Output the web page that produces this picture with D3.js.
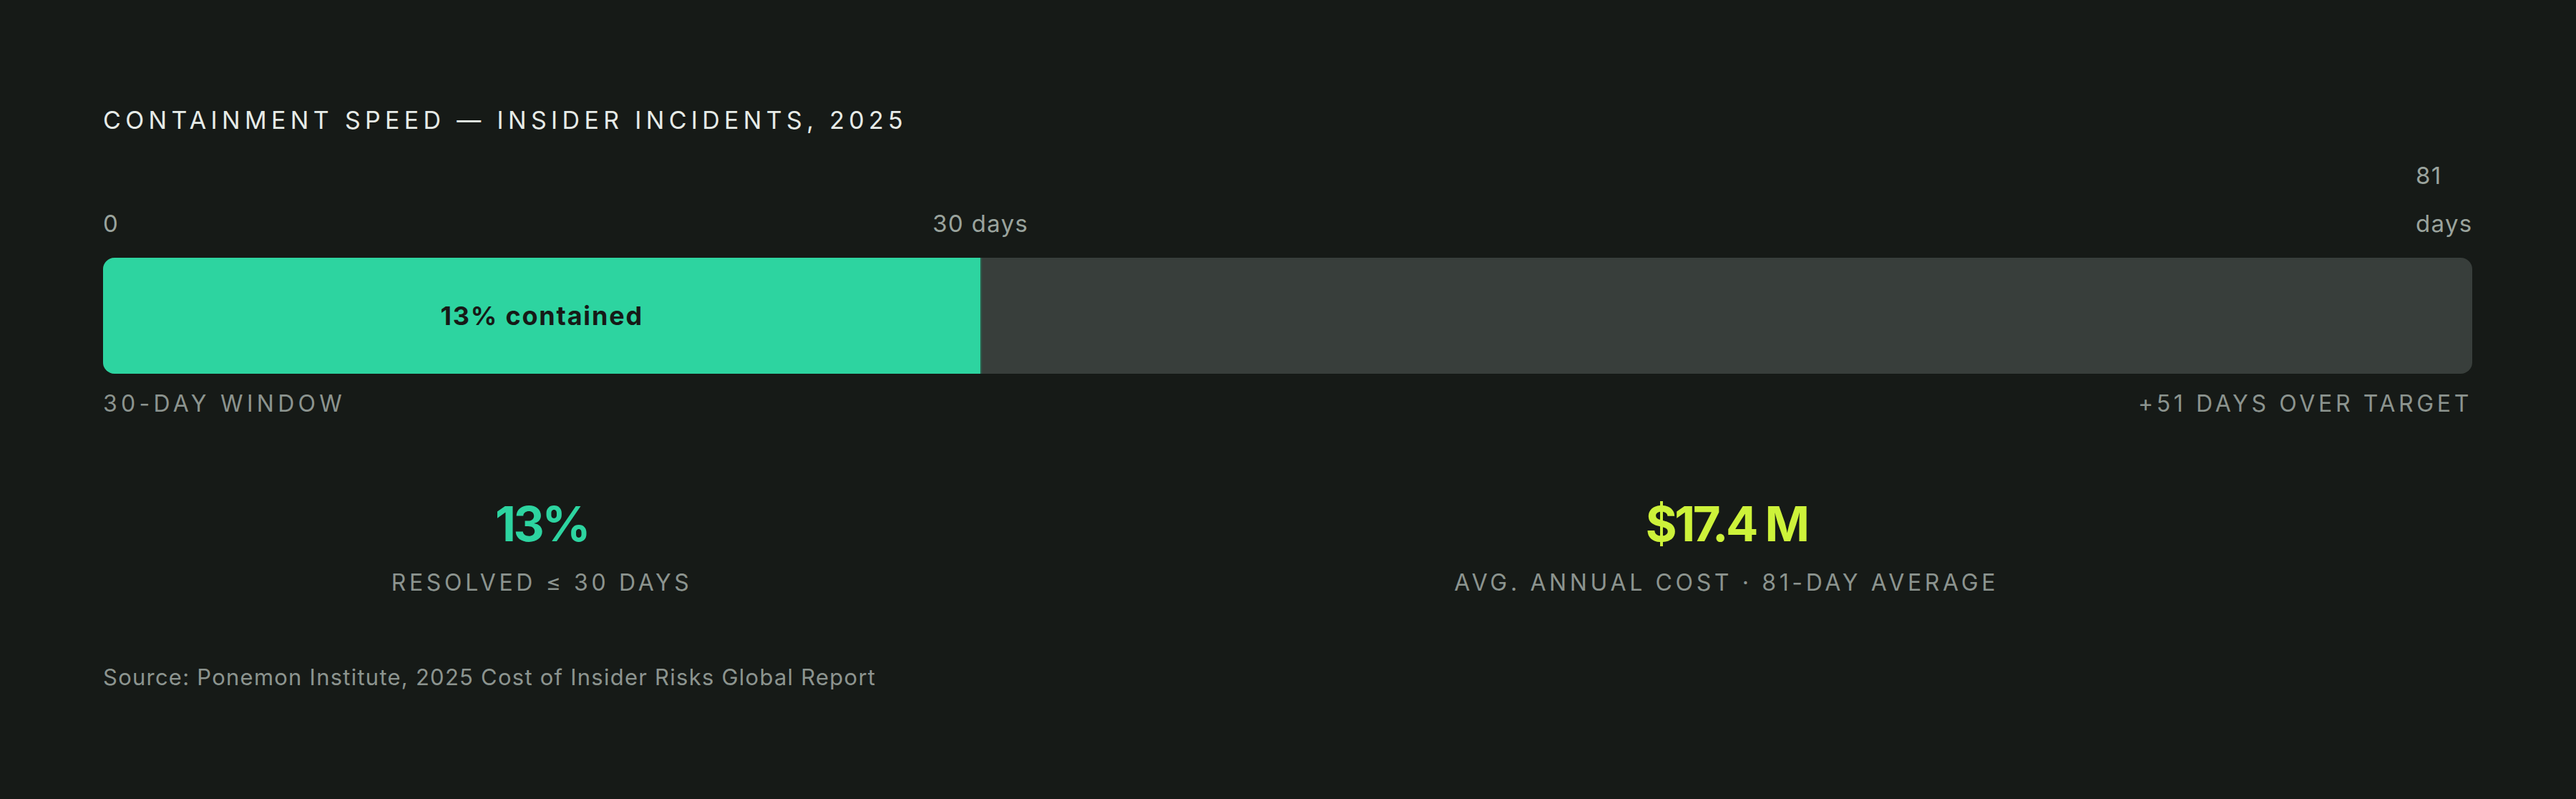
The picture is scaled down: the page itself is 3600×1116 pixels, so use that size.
<!DOCTYPE html>
<html>
<head>
<meta charset="utf-8">
<script src="https://cdn.jsdelivr.net/npm/d3@7"></script>
<style>
  html, body { margin: 0; padding: 0; background: #161a17; }
  svg { display: block; }
</style>
</head>
<body>
<div id="chart"></div>
<script>
(function () {
  'use strict';

  // data
  var dayTicks = [0, 30, 81];
  var tickLabels = ["0", "30 days", "81 days"];
  var segmentStart = [0, 30];
  var segmentEnd = [30, 81];
  var segmentNames = ["13% contained", ""];
  var windowLabels = ["30-DAY WINDOW", "+51 DAYS OVER TARGET"];
  var statValues = ["13%", "$17.4 M"];
  var statLabels = ["RESOLVED \u2264 30 DAYS", "AVG. ANNUAL COST \u00b7 81-DAY AVERAGE"];
  var title = "CONTAINMENT SPEED \u2014 INSIDER INCIDENTS, 2025";
  var source = "Source: Ponemon Institute, 2025 Cost of Insider Risks Global Report";

  var colours = ['#2dd4a0', '#383e3b'];
  var statColours = ['#2dd4a0', '#cdf23a'];
  var font = "Inter, 'DejaVu Sans', sans-serif";

  var width = 3600,
  height = 1116;

  var x = d3.scaleLinear()
  .domain([0, d3.max(segmentEnd)])
  .range([144, 3455]);

  var barTop = 360, barH = 162, r = 16;

  var svg = d3.select('#chart')
  .append('svg')
  .attr('width', width)
  .attr('height', height);

  svg.append('rect')
  .attr('width', width)
  .attr('height', height)
  .attr('fill', '#161a17');

  svg.append('text')
  .attr('x', x(0))
  .attr('y', 180)
  .attr('fill', '#e6ebe7')
  .style('font-family', font)
  .style('font-size', '34px')
  .style('letter-spacing', '0.186em')
  .text(title);

  // scale labels above the bar
  dayTicks.forEach(function(d, i) {
    var t = svg.append('text')
    .attr('y', 324)
    .attr('fill', '#9aa39d')
    .style('font-family', font)
    .style('font-size', '33px')
    .style('letter-spacing', '0.04em');

    if (i === 0) {
      t.attr('x', x(d)).text(tickLabels[i]);
    } else if (i === dayTicks.length - 1) {
      // last label wraps onto two lines
      var parts = tickLabels[i].split(' ');
      t.attr('x', x(d) - 79).attr('y', 257);
      t.append('tspan').attr('x', x(d) - 79).text(parts[0]);
      t.append('tspan').attr('x', x(d) - 79).attr('dy', 67).text(parts[1]);
    } else {
      t.attr('x', x(d)).attr('text-anchor', 'middle').text(tickLabels[i]);
    }
  });

  // background track (full range)
  svg.append('rect')
  .attr('x', x(0))
  .attr('y', barTop)
  .attr('width', x(d3.max(segmentEnd)) - x(0))
  .attr('height', barH)
  .attr('rx', r)
  .attr('fill', colours[1]);

  // contained segment, rounded on the left only
  var x0 = x(segmentStart[0]), x1 = x(segmentEnd[0]);
  svg.append('path')
  .attr('d', 'M' + (x0 + r) + ',' + barTop +
    'H' + x1 + 'V' + (barTop + barH) + 'H' + (x0 + r) +
    'A' + r + ',' + r + ' 0 0 1 ' + x0 + ',' + (barTop + barH - r) +
    'V' + (barTop + r) +
    'A' + r + ',' + r + ' 0 0 1 ' + (x0 + r) + ',' + barTop + 'Z')
  .attr('fill', colours[0]);

  svg.append('line')
  .attr('x1', x1 + 1).attr('x2', x1 + 1)
  .attr('y1', barTop).attr('y2', barTop + barH)
  .attr('stroke', '#2f5a4a')
  .attr('stroke-width', 2);

  svg.append('text')
  .attr('x', (x0 + x1) / 2)
  .attr('y', barTop + barH / 2)
  .attr('dy', '0.36em')
  .attr('text-anchor', 'middle')
  .attr('fill', '#161a17')
  .style('font-family', font)
  .style('font-size', '36px')
  .style('font-weight', 700)
  .style('letter-spacing', '0.05em')
  .text(segmentNames[0]);

  // labels under the bar
  svg.append('text')
  .attr('x', x(0))
  .attr('y', 575)
  .attr('fill', '#8c948f')
  .style('font-family', font)
  .style('font-size', '32px')
  .style('letter-spacing', '0.165em')
  .text(windowLabels[0]);

  svg.append('text')
  .attr('x', x(d3.max(segmentEnd)))
  .attr('y', 575)
  .attr('text-anchor', 'end')
  .attr('fill', '#8c948f')
  .style('font-family', font)
  .style('font-size', '32px')
  .style('letter-spacing', '0.145em')
  .text(windowLabels[1]);

  // stat blocks centred under each segment
  statValues.forEach(function(v, i) {
    var cx = (x(segmentStart[i]) + x(segmentEnd[i])) / 2;

    svg.append('text')
    .attr('x', cx)
    .attr('y', 756)
    .attr('text-anchor', 'middle')
    .attr('fill', statColours[i])
    .style('font-family', font)
    .style('font-size', '67px')
    .style('font-weight', 700)
    .style('letter-spacing', '-0.05em')
    .text(v);

    svg.append('text')
    .attr('x', cx)
    .attr('y', 825)
    .attr('text-anchor', 'middle')
    .attr('fill', '#8c948f')
    .style('font-family', font)
    .style('font-size', '32px')
    .style('letter-spacing', '0.145em')
    .text(statLabels[i]);
  });

  svg.append('text')
  .attr('x', x(0))
  .attr('y', 957)
  .attr('fill', '#8c948f')
  .style('font-family', font)
  .style('font-size', '31px')
  .style('letter-spacing', '0.04em')
  .text(source);
}());
</script>
</body>
</html>
